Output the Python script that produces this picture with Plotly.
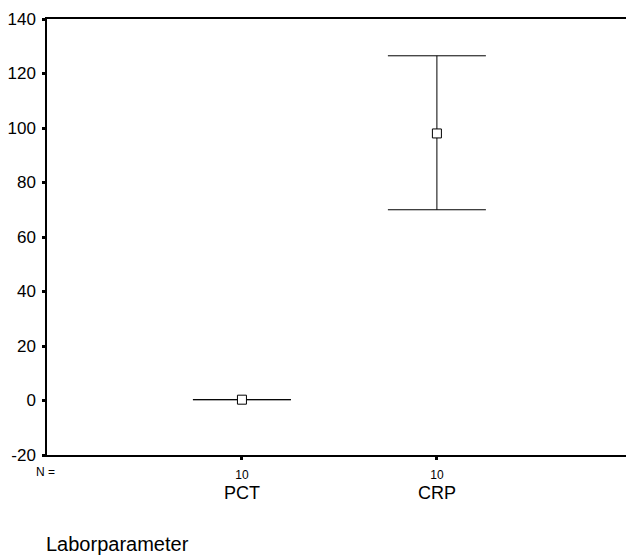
import plotly.graph_objects as go

categories = ["PCT", "CRP"]
cat_pos = [1, 2]
n_counts = ["10", "10"]
means = [0.3, 98.0]
upper = [0.32, 126.5]
lower = [0.28, 70.0]
y_ticks = [-20, 0, 20, 40, 60, 80, 100, 120, 140]
y_tick_text = ["-20", "0", "20", "40", "60", "80", "100", "120", "140"]

FONT = "Liberation Sans, Arial, sans-serif"

fig = go.Figure()
fig.add_trace(go.Scatter(
    x=cat_pos, y=means, mode="markers",
    marker=dict(symbol="square", size=9, color="white",
                line=dict(color="black", width=1)),
    error_y=dict(type="data", symmetric=False,
                 array=[u - m for u, m in zip(upper, means)],
                 arrayminus=[m - l for m, l in zip(means, lower)],
                 color="black", thickness=1, width=49),
    showlegend=False, cliponaxis=False,
))

fig.update_layout(
    width=626, height=557,
    margin=dict(l=47, r=0, t=19, b=102),
    paper_bgcolor="white", plot_bgcolor="white",
    font=dict(family=FONT, color="black"),
    xaxis=dict(range=[0, 2.97], tickvals=cat_pos, ticktext=n_counts,
               showgrid=False, zeroline=False, showline=True, mirror=True,
               linecolor="black", linewidth=1.5,
               ticks="outside", ticklen=3, tickwidth=3, tickcolor="black",
               ticklabelstandoff=5,
               tickfont=dict(size=12), fixedrange=True),
    yaxis=dict(range=[-20, 140], tickvals=y_ticks, ticktext=y_tick_text,
               showgrid=False, zeroline=False, showline=True,
               linecolor="black", linewidth=1.5,
               ticks="outside", ticklen=3, tickwidth=3, tickcolor="black",
               ticklabelstandoff=3,
               tickfont=dict(size=17), fixedrange=True),
)

for c, p in zip(categories, cat_pos):
    fig.add_annotation(x=p, xref="x", y=-0.087, yref="paper", text=c,
                       showarrow=False, font=dict(size=18),
                       xanchor="center", yanchor="middle")

fig.add_annotation(x=-0.002, xref="paper", y=-0.039, yref="paper", text="N =",
                   showarrow=False, font=dict(size=12),
                   xanchor="center", yanchor="middle")
fig.add_annotation(x=0, xref="paper", y=-0.203, yref="paper", text="Laborparameter",
                   showarrow=False, font=dict(size=20),
                   xanchor="left", yanchor="middle", xshift=-3)

fig.write_html("out.html")
